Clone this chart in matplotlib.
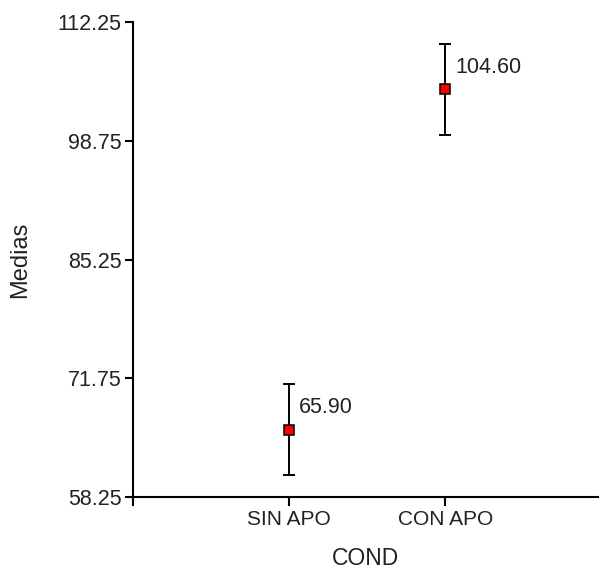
import numpy as np
import matplotlib as mpl
mpl.use("Agg")
import matplotlib.pyplot as plt

mpl.rcParams.update({
    "font.family": ["Liberation Sans", "DejaVu Sans"],
    "font.size": 15,
    "axes.spines.top": False, "axes.spines.right": False,
    "axes.linewidth": 1.5,
    "xtick.direction": "out", "ytick.direction": "out",
    "xtick.major.size": 6.5, "ytick.major.size": 6,
    "xtick.major.width": 1.5, "ytick.major.width": 1.5,
})

# data
conds = ["SIN APO", "CON APO"]
means = [65.90, 104.60]
errs = [5.2, 5.2]
yticks = [58.25, 71.75, 85.25, 98.75, 112.25]

fig = plt.figure(figsize=(5.99, 5.69), dpi=100)
ax = fig.add_axes([0.222, 0.1265, 0.778, 0.8348])

x = np.arange(1, len(conds) + 1)
ax.errorbar(x, means, yerr=errs, fmt="none", ecolor="black", elinewidth=1.4,
            capsize=4.5, capthick=1.4, zorder=2)
ax.plot(x, means, "s", ms=7, mfc="#ff0000", mec="black", mew=1.1, zorder=3)
for xi, m in zip(x, means):
    ax.annotate("%.2f" % m, (xi, m), xytext=(7, 16), textcoords="offset points",
                ha="left", va="center", fontsize=15.5, color="#222222")

ax.set_xlim(0, 2.985)
ax.set_ylim(yticks[0], yticks[-1])
ax.set_yticks(yticks)
ax.set_yticklabels(["%.2f" % t for t in yticks])
ax.set_xticks([0] + list(x))
ax.set_xticklabels([""] + conds)
ax.tick_params(axis="y", labelsize=15.5, labelcolor="#222222", pad=2)
ax.tick_params(axis="x", labelsize=15, labelcolor="#222222", pad=3)
ax.spines["left"].set_bounds(yticks[0], yticks[-1])

ax.set_xlabel("COND", fontsize=16.5, color="#222222")
ax.set_ylabel("Medias", fontsize=17, color="#222222")
ax.xaxis.set_label_coords(0.5, -0.105)
ax.yaxis.set_label_coords(-0.2425, 0.5)
ax.yaxis.label.set_va("center")
ax.xaxis.label.set_va("top")

fig.savefig("out.png", dpi=100)
